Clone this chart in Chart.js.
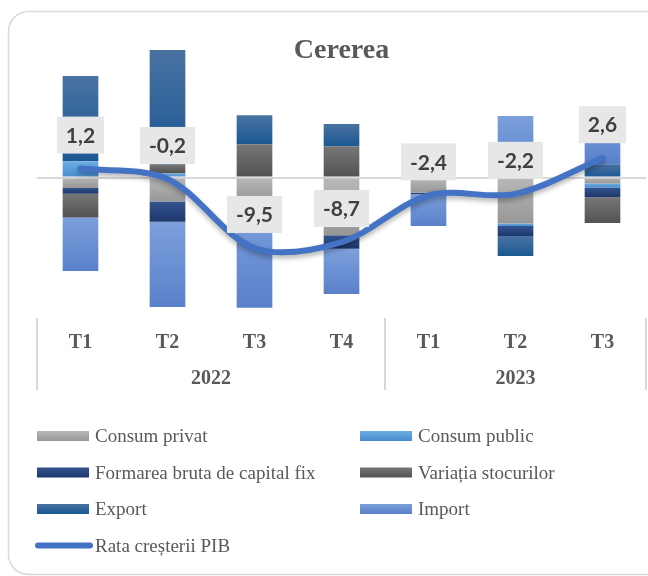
<!DOCTYPE html>
<html>
<head>
<meta charset="utf-8">
<script src="https://cdn.jsdelivr.net/npm/chart.js@4"></script>
<style>
  html, body { margin: 0; padding: 0; background: #fff; }
  #wrap { width: 648px; height: 576px; }
</style>
</head>
<body>
<div id="wrap"><canvas id="cererea" width="648" height="576"></canvas></div>
<script>
// data (percentage points)
const quarters = ['T1', 'T2', 'T3', 'T4', 'T1', 'T2', 'T3'];
const quarterYears = ['2022', '2022', '2022', '2022', '2023', '2023', '2023'];

const consumPrivat = [-1.4, -3.25, -3.0, -7.8, -2.05, -6.2, -0.8];
const consumPublic = [2.2, 0.55, 0.0, 0.0, 0.6, -0.35, -0.55];
const formareaBruta = [-0.8, -2.7, -1.0, -1.8, -0.2, -1.35, -1.3];
const variatiaStocurilor = [-3.2, 1.2, 4.5, 4.2, 0.0, 0.0, -3.5];
const exportNet = [11.5, 15.45, 3.9, 3.0, 3.5, -2.7, 1.8];
const importNet = [-7.2, -11.5, -13.55, -6.1, -4.3, 8.3, 6.8];
const rataPIB = [1.2, -0.2, -9.5, -8.7, -2.4, -2.2, 2.6];

const barSeries = [
  { label: 'Consum privat', data: consumPrivat, top: '#b8b8b8', bottom: '#979797' },
  { label: 'Consum public', data: consumPublic, top: '#6eaee2', bottom: '#468cce' },
  { label: 'Formarea bruta de capital fix', data: formareaBruta, top: '#34548f', bottom: '#1c376b' },
  { label: 'Variația stocurilor', data: variatiaStocurilor, top: '#767676', bottom: '#525252' },
  { label: 'Export', data: exportNet, top: '#4a72a2', bottom: '#1a5893' },
  { label: 'Import', data: importNet, top: '#7ca0dc', bottom: '#5a80ca' }
];

const textGrey = '#595959';
const serif = '"Liberation Serif", "DejaVu Serif", serif';

function segmentFill(d) {
  return (c) => {
    const s = barSeries[d];
    if (c.type !== 'data') return s.bottom;
    const chart = c.chart;
    const y = chart.scales.y;
    if (!y || !chart.chartArea) return s.bottom;
    const j = c.dataIndex;
    const v = s.data[j];
    let start = 0;
    for (let k = 0; k < d; k++) {
      const w = barSeries[k].data[j];
      if ((w >= 0) === (v >= 0)) start += w;
    }
    const p0 = y.getPixelForValue(start);
    const p1 = y.getPixelForValue(start + v);
    const top = Math.min(p0, p1), bot = Math.max(p0, p1);
    if (bot - top < 1) return s.bottom;
    const g = chart.ctx.createLinearGradient(0, top, 0, bot);
    g.addColorStop(0, s.top);
    g.addColorStop(1, s.bottom);
    return g;
  };
}

const datasets = barSeries.map((s, i) => ({
  type: 'bar',
  label: s.label,
  data: s.data,
  backgroundColor: segmentFill(i),
  borderWidth: 0,
  barPercentage: 0.41,
  categoryPercentage: 1,
  order: 1
}));

datasets.push({
  type: 'line',
  label: 'Rata creșterii PIB',
  data: rataPIB,
  borderColor: '#4472c4',
  backgroundColor: '#4472c4',
  borderWidth: 6,
  borderCapStyle: 'round',
  tension: 0.33,
  pointRadius: 0,
  pointHoverRadius: 0,
  stack: 'pib',
  order: 0
});

// frame, title, year row and separators
const decorations = {
  id: 'decorations',
  beforeDraw(chart) {
    const ctx = chart.ctx;
    ctx.save();
    ctx.fillStyle = '#fff';
    ctx.fillRect(0, 0, chart.width, chart.height);
    ctx.strokeStyle = '#d9d9d9';
    ctx.lineWidth = 1.5;
    ctx.beginPath();
    ctx.roundRect(8.5, 11.5, 670, 563, 20);
    ctx.stroke();
    ctx.restore();
  },
  afterDraw(chart) {
    const ctx = chart.ctx;
    const x = chart.scales.x;
    const area = chart.chartArea;
    ctx.save();
    ctx.fillStyle = textGrey;
    ctx.font = 'bold 28px ' + serif;
    ctx.textAlign = 'center';
    ctx.textBaseline = 'alphabetic';
    ctx.fillText('Cererea', (area.left + area.right) / 2, 58);

    const step = (x.getPixelForValue(1) - x.getPixelForValue(0));
    const groups = [];
    quarterYears.forEach((yr, i) => {
      const last = groups[groups.length - 1];
      if (last && last.year === yr) last.end = i;
      else groups.push({ year: yr, start: i, end: i });
    });
    ctx.strokeStyle = '#d9d9d9';
    ctx.lineWidth = 2;
    const bounds = [x.getPixelForValue(0) - step / 2];
    groups.forEach(g => bounds.push(x.getPixelForValue(g.end) + step / 2));
    bounds.forEach(b => {
      const bx = Math.min(b, chart.width - 2);
      ctx.beginPath();
      ctx.moveTo(bx, 318);
      ctx.lineTo(bx, 390);
      ctx.stroke();
    });
    ctx.font = 'bold 20px ' + serif;
    ctx.textBaseline = 'middle';
    groups.forEach(g => {
      const cx = (x.getPixelForValue(g.start) + x.getPixelForValue(g.end)) / 2;
      ctx.fillText(g.year, cx, 379);
    });
    ctx.restore();
  }
};

// boxed value labels above the growth line
const lineLabels = {
  id: 'lineLabels',
  beforeDatasetDraw(chart, args) {
    if (chart.data.datasets[args.index].type === 'line') {
      const ctx = chart.ctx;
      ctx.save();
      ctx.shadowColor = 'rgba(0,0,0,0.3)';
      ctx.shadowBlur = 5;
      ctx.shadowOffsetY = 3;
    }
  },
  afterDatasetDraw(chart, args) {
    if (chart.data.datasets[args.index].type === 'line') chart.ctx.restore();
  },
  afterDatasetsDraw(chart) {
    const idx = chart.data.datasets.findIndex(d => d.type === 'line');
    const meta = chart.getDatasetMeta(idx);
    const ctx = chart.ctx;
    ctx.save();
    ctx.font = 'bold 21px Lato, "Open Sans", sans-serif';
    ctx.textAlign = 'center';
    ctx.textBaseline = 'middle';
    meta.data.forEach((pt, i) => {
      const txt = rataPIB[i].toFixed(1).replace('.', ',');
      const w = ctx.measureText(txt).width + 18;
      const h = 37;
      const bottom = pt.y - 15;
      ctx.fillStyle = '#e7e7e7';
      ctx.fillRect(pt.x - w / 2, bottom - h, w, h);
      ctx.fillStyle = '#404040';
      ctx.fillText(txt, pt.x, bottom - h / 2 + 1);
    });
    ctx.restore();
  }
};

// two-column legend under the axis
const bottomLegend = {
  id: 'bottomLegend',
  afterDraw(chart) {
    const ctx = chart.ctx;
    const cols = [37, 360];
    ctx.save();
    ctx.font = '19px ' + serif;
    ctx.textAlign = 'left';
    ctx.textBaseline = 'alphabetic';
    chart.data.datasets.forEach((ds, i) => {
      const cx = cols[i % 2];
      const cy = 436 + Math.floor(i / 2) * 36.5;
      if (ds.type === 'line') {
        ctx.strokeStyle = ds.borderColor;
        ctx.lineWidth = 6;
        ctx.lineCap = 'round';
        ctx.beginPath();
        ctx.moveTo(cx + 1, cy);
        ctx.lineTo(cx + 53, cy);
        ctx.stroke();
      } else {
        const s = barSeries[i];
        const g = ctx.createLinearGradient(0, cy - 5, 0, cy + 5);
        g.addColorStop(0, s.top);
        g.addColorStop(1, s.bottom);
        ctx.fillStyle = g;
        ctx.fillRect(cx, cy - 5, 52, 10);
      }
      ctx.fillStyle = textGrey;
      ctx.fillText(ds.label, cx + 58, cy + 6);
    });
    ctx.restore();
  }
};

new Chart(document.getElementById('cererea'), {
  data: { labels: quarters, datasets: datasets },
  options: {
    responsive: false,
    animation: false,
    layout: { padding: { left: 37, right: 2, top: 44, bottom: 0 } },
    plugins: {
      legend: { display: false },
      title: { display: false },
      tooltip: { enabled: false }
    },
    scales: {
      x: {
        stacked: true,
        grid: { display: false, drawTicks: false },
        border: { display: false },
        ticks: {
          color: textGrey,
          font: { family: serif, size: 20, weight: 'bold' },
          padding: 20
        },
        afterFit: (s) => { s.height = 265; }
      },
      y: {
        stacked: true,
        min: -18,
        max: 18,
        border: { display: false },
        ticks: { display: false, stepSize: 6 },
        grid: {
          drawTicks: false,
          lineWidth: 2,
          color: (c) => (c.tick && c.tick.value === 0 ? '#d9d9d9' : 'rgba(0,0,0,0)')
        },
        afterFit: (s) => { s.width = 0; }
      }
    }
  },
  plugins: [decorations, lineLabels, bottomLegend]
});
</script>
</body>
</html>
